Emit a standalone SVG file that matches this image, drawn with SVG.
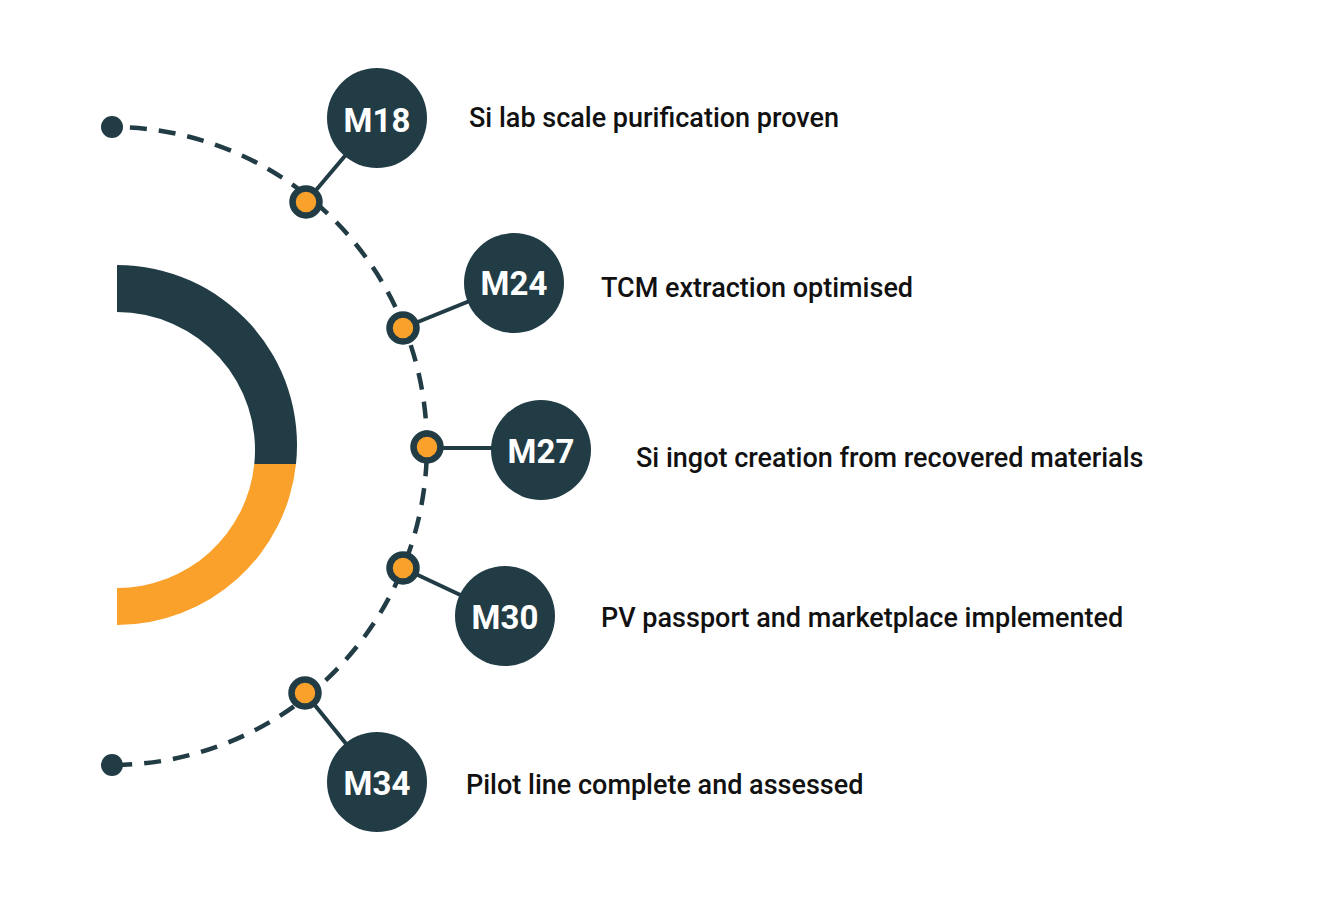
<svg xmlns="http://www.w3.org/2000/svg" width="1326" height="915" viewBox="0 0 1326 915">
<style>
.dark{fill:#213c45}
.orange{fill:#f9a12b}
.conn{stroke:#213c45;stroke-width:4;fill:none}
.dash{stroke:#213c45;stroke-width:4.5;fill:none;stroke-dasharray:17 12;stroke-dashoffset:11}
.ring{fill:#f9a12b;stroke:#213c45;stroke-width:6.5}
.node{fill:#213c45}
.nlabel{font-family:Roboto,"Liberation Sans",sans-serif;font-weight:700;font-size:33px;fill:#ffffff;text-anchor:middle}
.label{font-family:Roboto,"Liberation Sans",sans-serif;font-weight:500;font-size:27px;fill:#111111}
</style>
<rect width="1326" height="915" fill="#ffffff"/>
<g id="gauge">
<path class="dark" d="M117,265 A180,180 0 0 1 296,464 L254.3,464 A138,138 0 0 0 117,312 Z"/>
<path class="orange" d="M296,464 A180,180 0 0 1 117,625 L117,588 A138,138 0 0 0 254.3,464 Z"/>
</g>
<g id="connectors">
<path class="dash" d="M112,127 A315,319 0 0 1 112,765"/>
<line class="conn" x1="306" y1="202" x2="377" y2="118"/>
<line class="conn" x1="403" y1="328" x2="514" y2="283"/>
<line class="conn" x1="427" y1="448" x2="541" y2="448"/>
<line class="conn" x1="403" y1="568" x2="505" y2="616"/>
<line class="conn" x1="305" y1="693" x2="377" y2="782"/>
</g>
<g id="endpoints">
<circle class="dark" cx="112" cy="127" r="11"/>
<circle class="dark" cx="112" cy="765" r="11"/>
</g>
<g id="dots">
<circle class="ring" cx="306" cy="202" r="13.5"/>
<circle class="ring" cx="403" cy="328" r="13.5"/>
<circle class="ring" cx="427" cy="447" r="13.5"/>
<circle class="ring" cx="403" cy="568" r="13.5"/>
<circle class="ring" cx="305" cy="693" r="13.5"/>
</g>
<g id="m18">
<circle class="node" cx="377" cy="118" r="50"/>
<text class="nlabel" x="377" y="131.5">M18</text>
<text class="label" x="469" y="127">Si lab scale purification proven</text>
</g>
<g id="m24">
<circle class="node" cx="514" cy="283" r="50"/>
<text class="nlabel" x="514" y="295">M24</text>
<text class="label" x="601" y="296.5">TCM extraction optimised</text>
</g>
<g id="m27">
<circle class="node" cx="541" cy="450" r="50"/>
<text class="nlabel" x="541" y="462.5">M27</text>
<text class="label" x="636" y="466.5">Si ingot creation from recovered materials</text>
</g>
<g id="m30">
<circle class="node" cx="505" cy="616" r="50"/>
<text class="nlabel" x="505" y="628.5">M30</text>
<text class="label" x="601" y="626.5">PV passport and marketplace implemented</text>
</g>
<g id="m34">
<circle class="node" cx="377" cy="782" r="50"/>
<text class="nlabel" x="377" y="794.5">M34</text>
<text class="label" x="466" y="793.5">Pilot line complete and assessed</text>
</g>
</svg>
